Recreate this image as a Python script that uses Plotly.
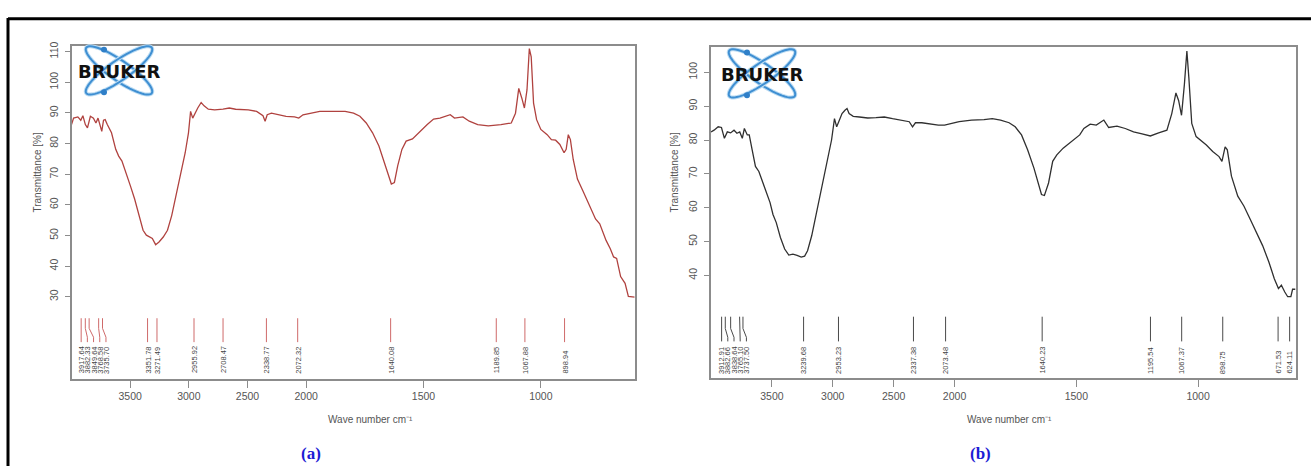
import numpy as np
import plotly.graph_objects as go

# ---------------- data ----------------
# Panel (a) spectrum: wavenumber (cm-1) and transmittance (%)
A_WN = [4000, 3982, 3946, 3921, 3903, 3882, 3864, 3839, 3813, 3792, 3774, 3756, 3742, 3727, 3713, 3695,
        3659, 3623, 3598, 3570, 3534, 3498, 3462, 3426, 3390, 3362, 3336, 3311, 3283, 3254, 3218, 3182,
        3146, 3110, 3075, 3031, 3003, 2985, 2967, 2949, 2924, 2895, 2870, 2834, 2780, 2709, 2655, 2601,
        2547, 2493, 2422, 2368, 2350, 2332, 2296, 2242, 2171, 2099, 2063, 2027, 1977, 1942, 1906, 1870,
        1834, 1798, 1771, 1744, 1717, 1690, 1669, 1651, 1637, 1624, 1610, 1592, 1574, 1547, 1529, 1511,
        1484, 1457, 1430, 1386, 1368, 1332, 1305, 1269, 1224, 1170, 1126, 1108, 1094, 1081, 1070, 1059,
        1049, 1041, 1031, 1018, 1000, 973, 955, 937, 919, 901, 892, 883, 874, 862, 844, 821, 794, 767,
        749, 722, 704, 690, 677, 660, 641, 627, 600]
A_T = [86.2, 88.3, 88.7, 87.6, 89.1, 86.2, 85.1, 88.9, 88.3, 86.7, 88.3, 86.2, 84.0, 87.6, 87.8, 86.2,
       83.5, 78.1, 75.9, 74.3, 70.5, 66.2, 61.9, 57.1, 51.7, 50.1, 49.5, 49.0, 47.0, 47.9, 49.5, 51.7,
       56.5, 63.0, 69.5, 77.0, 83.5, 90.5, 88.3, 89.9, 91.6, 93.4, 92.3, 91.2, 91.0, 91.2, 91.6, 91.2,
       91.2, 91.0, 90.5, 89.1, 87.3, 89.4, 89.9, 89.4, 88.9, 88.7, 88.3, 89.4, 89.9, 90.5, 90.5, 90.5,
       90.5, 89.9, 88.9, 86.7, 83.5, 79.2, 74.3, 69.5, 66.8, 67.3, 72.7, 78.1, 80.8, 81.5, 82.9, 84.0,
       86.2, 88.0, 88.3, 89.4, 88.3, 88.7, 87.3, 86.2, 85.8, 86.2, 86.7, 89.9, 98.0, 94.8, 91.6, 97.5,
       111.0, 108.3, 93.2, 87.8, 84.6, 82.9, 81.3, 81.1, 79.7, 77.0, 78.1, 82.9, 81.3, 74.8, 68.4, 64.6,
       59.8, 55.4, 53.8, 48.4, 45.7, 43.0, 42.5, 36.6, 34.4, 30.1, 29.9]

# Panel (b) spectrum
B_WN = [4000, 3975, 3941, 3914, 3890, 3866, 3839, 3811, 3787, 3764, 3743, 3726, 3702, 3686, 3662, 3635,
        3607, 3583, 3549, 3515, 3491, 3464, 3430, 3395, 3361, 3327, 3293, 3259, 3231, 3207, 3173, 3139,
        3105, 3071, 3037, 3010, 2986, 2968, 2951, 2924, 2900, 2883, 2866, 2832, 2781, 2713, 2645, 2577,
        2509, 2440, 2372, 2345, 2321, 2269, 2201, 2133, 2082, 2030, 1981, 1930, 1879, 1845, 1811, 1776,
        1751, 1725, 1700, 1674, 1654, 1643, 1631, 1614, 1597, 1580, 1554, 1529, 1503, 1486, 1469, 1443,
        1418, 1387, 1367, 1333, 1299, 1265, 1230, 1196, 1162, 1128, 1108, 1091, 1080, 1068, 1056, 1046,
        1038, 1026, 1008, 991, 966, 940, 914, 902, 889, 880, 863, 837, 812, 786, 761, 735, 709, 687,
        670, 658, 644, 632, 619, 612, 600]
B_T = [82.4, 82.9, 83.9, 83.7, 80.5, 82.4, 82.1, 82.9, 82.0, 82.4, 80.5, 83.4, 81.5, 81.5, 77.1, 72.2,
       70.7, 68.3, 65.4, 61.5, 58.0, 55.6, 51.2, 47.8, 46.0, 46.3, 45.9, 45.4, 45.7, 47.3, 51.7, 57.6,
       63.4, 69.3, 74.6, 80.0, 86.3, 83.9, 85.4, 87.8, 88.8, 89.3, 87.8, 87.0, 86.8, 86.5, 86.6, 86.8,
       86.3, 85.9, 85.4, 83.9, 85.1, 85.1, 84.7, 84.4, 84.4, 84.9, 85.4, 85.9, 86.0, 86.3, 85.9, 85.1,
       83.9, 81.5, 77.1, 71.7, 66.8, 63.9, 63.6, 67.3, 73.7, 75.6, 77.6, 79.0, 80.5, 81.5, 83.4, 84.7,
       84.4, 85.9, 83.7, 84.1, 83.4, 82.4, 81.8, 81.2, 82.1, 82.9, 87.8, 93.9, 91.7, 87.3, 96.6, 106.3,
       98.5, 84.9, 81.0, 80.0, 78.5, 76.6, 75.1, 73.7, 78.0, 77.1, 69.3, 63.4, 60.5, 56.6, 52.7, 48.8,
       43.9, 39.0, 36.1, 37.1, 35.1, 33.7, 33.7, 35.9, 35.9]

# Peak picks (labels)
A_PEAKS = [3917.64, 3882.33, 3849.64, 3768.58, 3735.70, 3351.78, 3271.49, 2955.92, 2708.47,
           2338.77, 2072.32, 1640.08, 1189.85, 1067.88, 898.94]
B_PEAKS = [3912.91, 3882.66, 3838.64, 3765.10, 3737.50, 3239.68, 2953.23, 2337.38, 2073.48,
           1640.23, 1195.54, 1067.37, 898.75, 671.53, 624.11]
N_CLUSTER = 5  # first five peaks are spread apart with bent leader lines

X_TICK_WN = [3500, 3000, 2500, 2000, 1500, 1000]
A_Y_TICKS = [30, 40, 50, 60, 70, 80, 90, 100, 110]
B_Y_TICKS = [40, 50, 60, 70, 80, 90, 100]

# ---------------- helpers ----------------
W, H = 1311, 466
WN_MAX, WN_MIN = 4000, 600


def to_u(wn):
    """Bruker-style axis: scale below 2000 cm-1 is expanded twofold."""
    wn = np.asarray(wn, dtype=float)
    return np.where(wn >= 2000, wn, 2 * wn - 2000)


U_MAX, U_MIN = float(to_u(WN_MAX)), float(to_u(WN_MIN))


def px(x):
    return x / W


def py(y):
    return 1 - y / H


panels = [
    dict(wn=A_WN, t=A_T, peaks=A_PEAKS, yticks=A_Y_TICKS, color="#b0423f", pcolor="#cf6a6a",
         left=71.5, right=634.7, top=42.0, bottom=378.0, yr=[3.25, 111.95],
         ly=[23.0, 19.7, 16.8, 15.2, 4.3], title_x=38, xt_x=370, lab="(a)", lab_x=311,
         logo=(119, 67)),
    dict(wn=B_WN, t=B_T, peaks=B_PEAKS, yticks=B_Y_TICKS, color="#303030", pcolor="#4a4a4a",
         left=711.0, right=1295.5, top=43.3, bottom=377.7, yr=[9.55, 107.5],
         ly=[27.8, 24.3, 21.7, 20.5, 10.3], title_x=675, xt_x=1009, lab="(b)", lab_x=980,
         logo=(762, 70)),
]

fig = go.Figure()
annotations = []
shapes = []

for i, p in enumerate(panels):
    xa = "x" if i == 0 else "x2"
    ya = "y" if i == 0 else "y2"
    k = (p["right"] - p["left"]) / (U_MAX - U_MIN)  # px per u-unit

    # spectrum
    fig.add_trace(go.Scatter(x=to_u(p["wn"]), y=p["t"], mode="lines", xaxis=xa, yaxis=ya,
                             line=dict(color=p["color"], width=1.3), showlegend=False,
                             hoverinfo="skip"))

    # peak leader lines
    ytop, yb1, yb2, ybot, ylab = p["ly"]
    pu = to_u(p["peaks"])
    first_px = p["left"] + (U_MAX - pu[0]) * k
    lx, ly_ = [], []
    label_u = []
    for j, u in enumerate(pu):
        if j < N_CLUSTER:
            lab_px = first_px + j * 6.2
            uu = U_MAX - (lab_px - p["left"]) / k
            lx += [u, u, uu, uu, None]
            ly_ += [ytop, yb1, yb2, ybot, None]
        else:
            uu = u
            lx += [u, u, None]
            ly_ += [ytop, ybot, None]
        label_u.append(uu)
    fig.add_trace(go.Scatter(x=lx, y=ly_, mode="lines", xaxis=xa, yaxis=ya,
                             line=dict(color=p["pcolor"], width=1), showlegend=False,
                             hoverinfo="skip"))
    for val, uu in zip(p["peaks"], label_u):
        annotations.append(dict(x=uu, y=ylab, xref=xa, yref=ya, text=f"{val:.2f}",
                                textangle=-90, xanchor="center", yanchor="bottom",
                                showarrow=False,
                                font=dict(family="Liberation Sans", size=7.5, color="#444")))

    ax_common = dict(showline=True, mirror=True, linecolor="#8c8c8c", linewidth=1.5,
                     showgrid=False, zeroline=False, ticks="outside", tickcolor="#8c8c8c",
                     tickwidth=1.2,
                     tickfont=dict(family="Liberation Sans", size=10.5, color="#555"))
    xaxis = dict(ax_common, domain=[px(p["left"]), px(p["right"])], range=[U_MAX, U_MIN],
                 tickmode="array", tickvals=to_u(X_TICK_WN).tolist(),
                 ticktext=[str(v) for v in X_TICK_WN], ticklen=7, anchor=ya)
    yaxis = dict(ax_common, domain=[py(p["bottom"]), py(p["top"])], range=p["yr"],
                 tickmode="array", tickvals=p["yticks"], ticklen=5, tickangle=-90,
                 ticklabelstandoff=3, anchor=xa)
    fig.update_layout(**{("xaxis" if i == 0 else "xaxis2"): xaxis,
                         ("yaxis" if i == 0 else "yaxis2"): yaxis})

    # axis titles
    annotations.append(dict(x=px(p["title_x"]), y=py(170), xref="paper", yref="paper",
                            text="Transmittance [%]", textangle=-90, showarrow=False,
                            xanchor="center", yanchor="middle",
                            font=dict(family="Liberation Sans", size=10, color="#555")))
    annotations.append(dict(x=px(p["xt_x"]), y=py(419), xref="paper", yref="paper",
                            text="Wave number cm\u207b\u00b9", showarrow=False,
                            xanchor="center", yanchor="middle",
                            font=dict(family="Liberation Sans", size=10, color="#555")))
    # panel label
    annotations.append(dict(x=px(p["lab_x"]), y=py(453), xref="paper", yref="paper",
                            text=p["lab"], showarrow=False,
                            xanchor="center", yanchor="middle",
                            font=dict(family="Liberation Serif", size=17, color="#1c1cd4",
                                      weight="bold")))

    # Bruker logo (two crossing orbits + dots + wordmark)
    cx, cy = p["logo"]
    t = np.linspace(0, 2 * np.pi, 60)
    a_ax, b_ax = 40, 10
    for ang in (35, -35):
        th = np.radians(ang)
        ex = cx + a_ax * np.cos(t) * np.cos(th) - b_ax * np.sin(t) * np.sin(th)
        ey = cy + a_ax * np.cos(t) * np.sin(th) + b_ax * np.sin(t) * np.cos(th)
        path = "M " + " L ".join(f"{px(x):.5f},{py(y):.5f}" for x, y in zip(ex, ey)) + " Z"
        shapes.append(dict(type="path", path=path, xref="paper", yref="paper",
                           line=dict(color="#bcdcf3", width=4), layer="above"))
        shapes.append(dict(type="path", path=path, xref="paper", yref="paper",
                           line=dict(color="#3f8fd2", width=2), layer="above"))
    for dx, dy in ((-15, -21), (-15, 22)):
        r = 3
        shapes.append(dict(type="circle", xref="paper", yref="paper",
                           x0=px(cx + dx - r), x1=px(cx + dx + r),
                           y0=py(cy + dy + r), y1=py(cy + dy - r),
                           fillcolor="#2f7fc8", line=dict(width=0), layer="above"))
    annotations.append(dict(x=px(cx), y=py(cy + 1), xref="paper", yref="paper",
                            text="BRUKER",
                            showarrow=False, xanchor="center", yanchor="middle",
                            font=dict(family="DejaVu Sans", size=18, color="#111",
                                      weight="bold")))

# outer frame (top and left heavy rules)
shapes.append(dict(type="line", xref="paper", yref="paper", x0=px(8), x1=1.0,
                   y0=py(15), y1=py(15), line=dict(color="black", width=3)))
shapes.append(dict(type="line", xref="paper", yref="paper", x0=px(8), x1=px(8),
                   y0=py(14), y1=0.0, line=dict(color="black", width=3)))

fig.update_layout(width=W, height=H, margin=dict(l=0, r=0, t=0, b=0),
                  paper_bgcolor="white", plot_bgcolor="white",
                  annotations=annotations, shapes=shapes, showlegend=False)

fig.write_html("out.html", config={"displayModeBar": False},
               post_script="document.body.style.margin='0';document.body.style.overflow='hidden';")
